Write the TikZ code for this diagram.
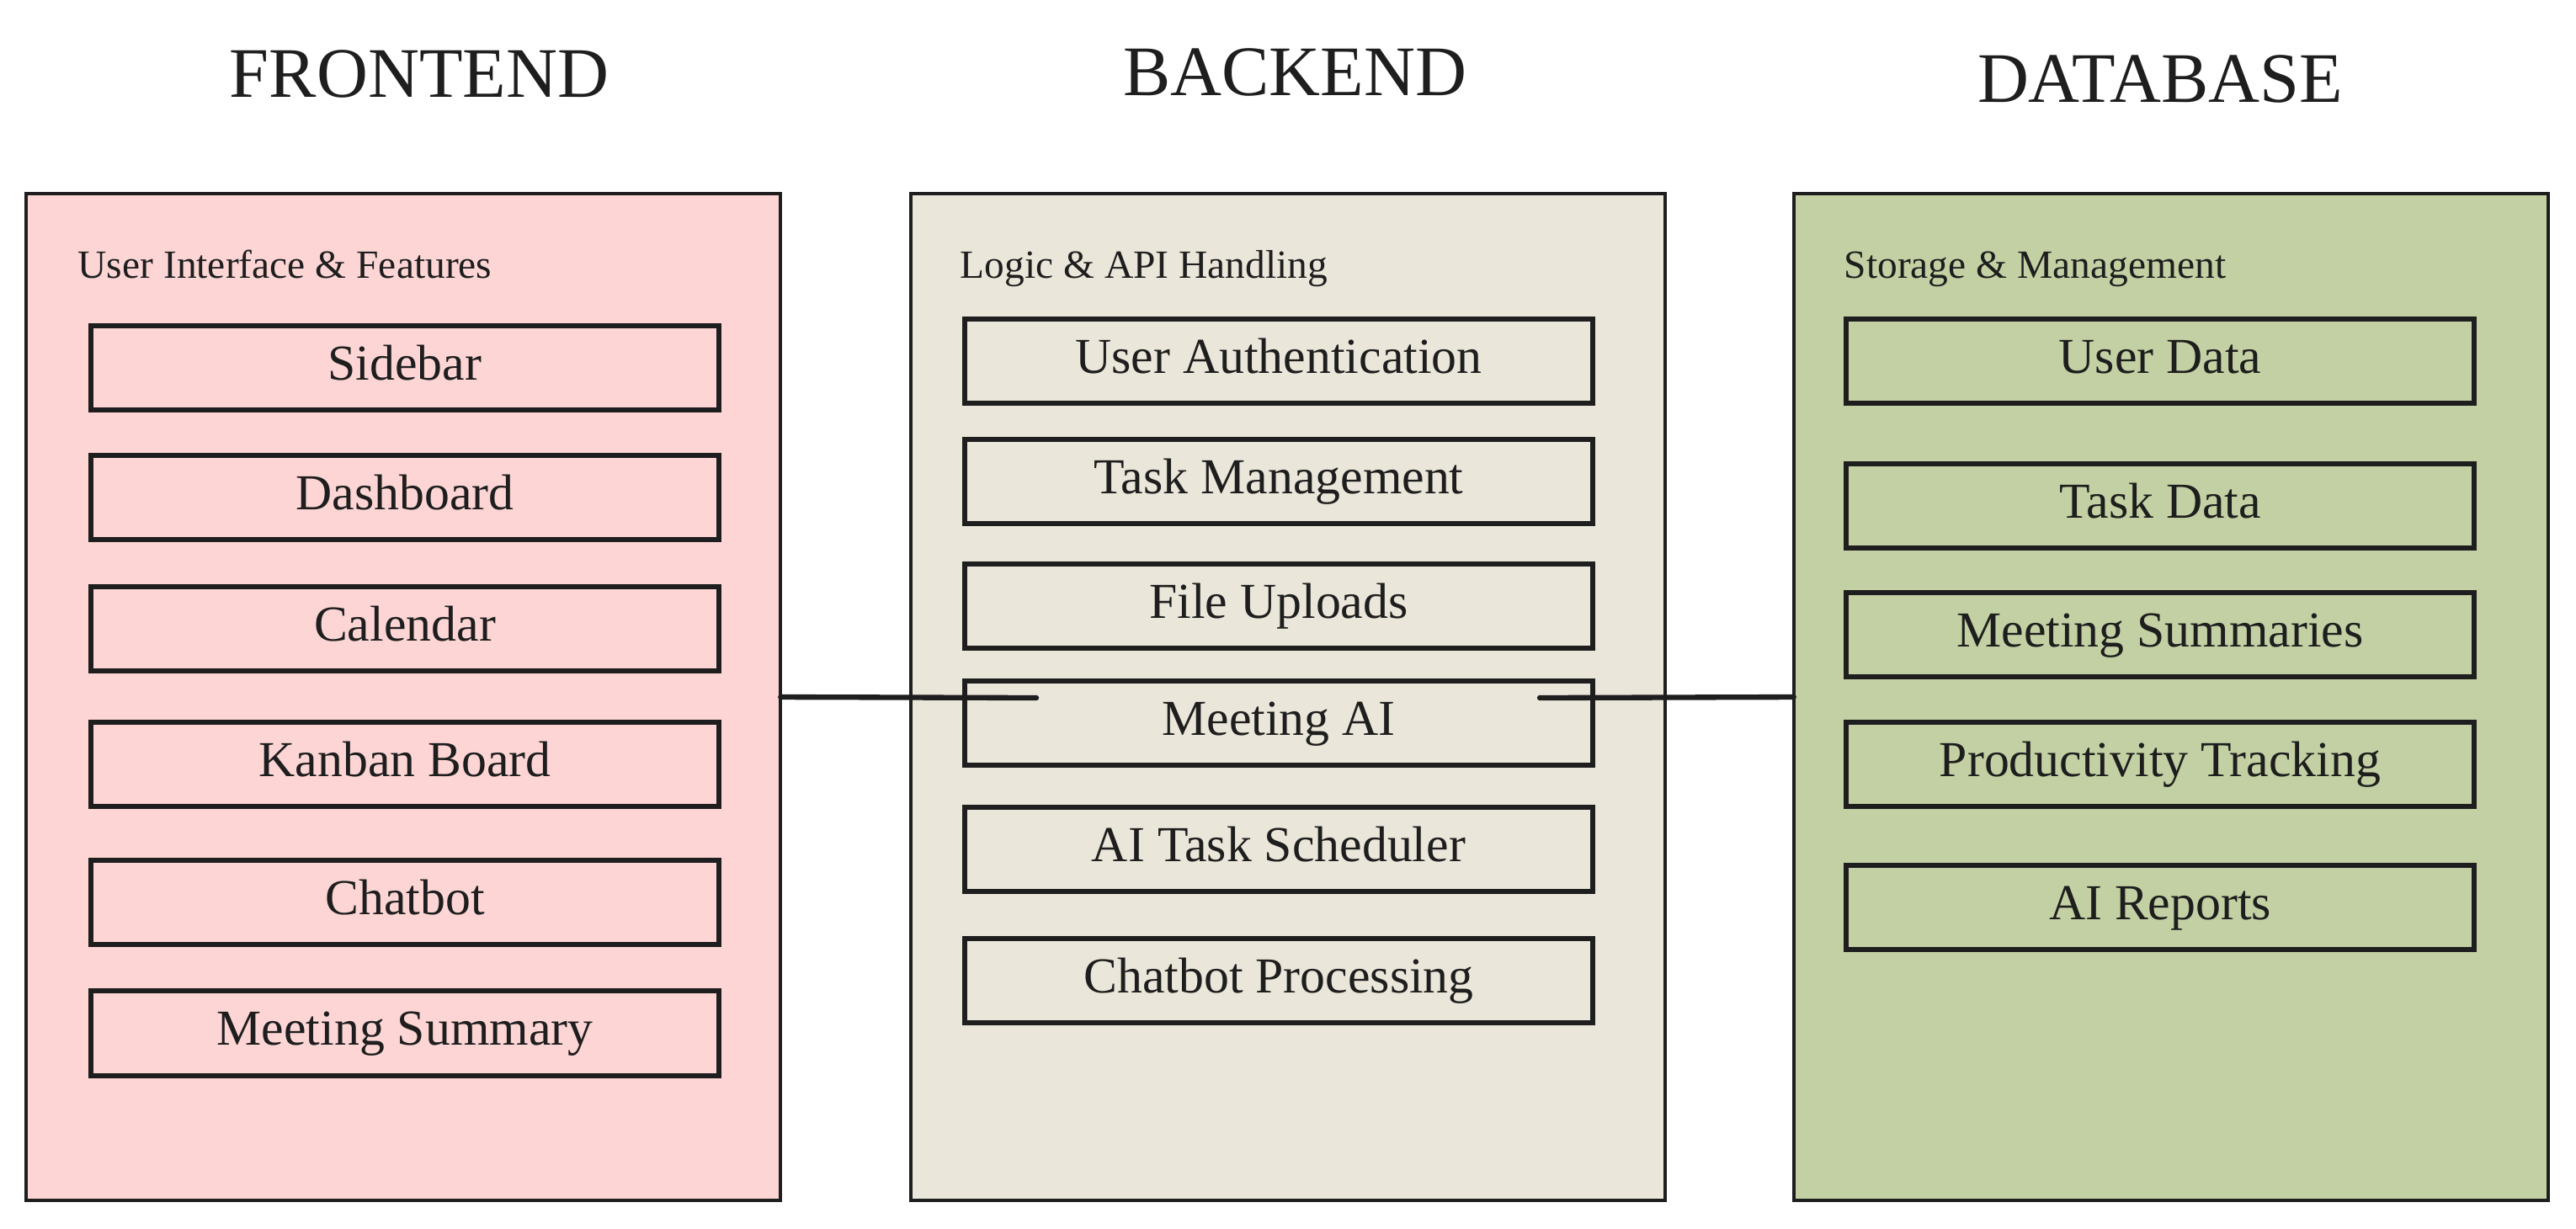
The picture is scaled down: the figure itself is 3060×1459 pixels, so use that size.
\documentclass[tikz,border=0pt]{standalone}
\usepackage{fontspec}
\setmainfont{Liberation Serif}
\usetikzlibrary{positioning}
\definecolor{ink}{HTML}{1E1E1E}
\definecolor{fepink}{HTML}{FDD5D5}
\definecolor{bebeige}{HTML}{EAE6DA}
\definecolor{dbgreen}{HTML}{C3D0A3}
\begin{document}
\begin{tikzpicture}[x=0.01cm,y=-0.01cm,node distance=5.5mm,every node/.style={text=ink},
  panel/.style={draw=ink,line width=1.2pt,minimum width=8.96cm,minimum height=11.96cm,inner sep=0pt,outer sep=0pt},
  item/.style={draw=ink,line width=1.7pt,minimum width=7.45cm,minimum height=1cm,inner sep=0pt,outer sep=0pt,
    font=\fontsize{17}{20}\selectfont,text height=12pt,text depth=4pt},
  head/.style={font=\fontsize{24}{28}\selectfont},
  sub/.style={anchor=base west,inner sep=0pt,font=\fontsize{13.5}{16}\selectfont},
  conn/.style={draw=ink,line width=1.8pt,line cap=round}]
\useasboundingbox (0,0) rectangle (3060,1459);
\node[panel,fill=fepink] (fe) at (479,828) {};
\node[panel,fill=bebeige] (be) at (1530,828) {};
\node[panel,fill=dbgreen] (db) at (2579,828) {};
\node[head] (feh) at (498,88) {FRONTEND};
\node[head] (beh) at (1538,86) {BACKEND};
\node[head] (dbh) at (2566,94) {DATABASE};
\node[sub] (fes) at (92,330) {User Interface \& Features};
\node[sub] (bes) at (1140,330) {Logic \& API Handling};
\node[sub] (dbs) at (2190,330) {Storage \& Management};
\node[item] (fe1) at (481,437) {Sidebar};
\node[item,below=5.4mm of fe1] (fe2) {Dashboard};
\node[item,below=5.6mm of fe2] (fe3) {Calendar};
\node[item,below=6.1mm of fe3] (fe4) {Kanban Board};
\node[item,below=6.4mm of fe4] (fe5) {Chatbot};
\node[item,below=of fe5] (fe6) {Meeting Summary};
\node[item] (be1) at (1519,429) {User Authentication};
\node[item,below=4.3mm of be1] (be2) {Task Management};
\node[item,below=4.8mm of be2] (be3) {File Uploads};
\node[item,below=3.9mm of be3] (be4) {Meeting AI};
\node[item,below=5mm of be4] (be5) {AI Task Scheduler};
\node[item,below=5.6mm of be5] (be6) {Chatbot Processing};
\node[item] (db1) at (2566,429) {User Data};
\node[item,below=7.2mm of db1] (db2) {Task Data};
\node[item,below=5.3mm of db2] (db3) {Meeting Summaries};
\node[item,below=5.4mm of db3] (db4) {Productivity Tracking};
\node[item,below=7mm of db4] (db5) {AI Reports};
\coordinate (mL) at (1231,829);
\coordinate (mR) at (1829,829);
\draw[conn] (fe.east) -- (mL);
\draw[conn] (mR) -- (db.west);
\end{tikzpicture}
\end{document}
